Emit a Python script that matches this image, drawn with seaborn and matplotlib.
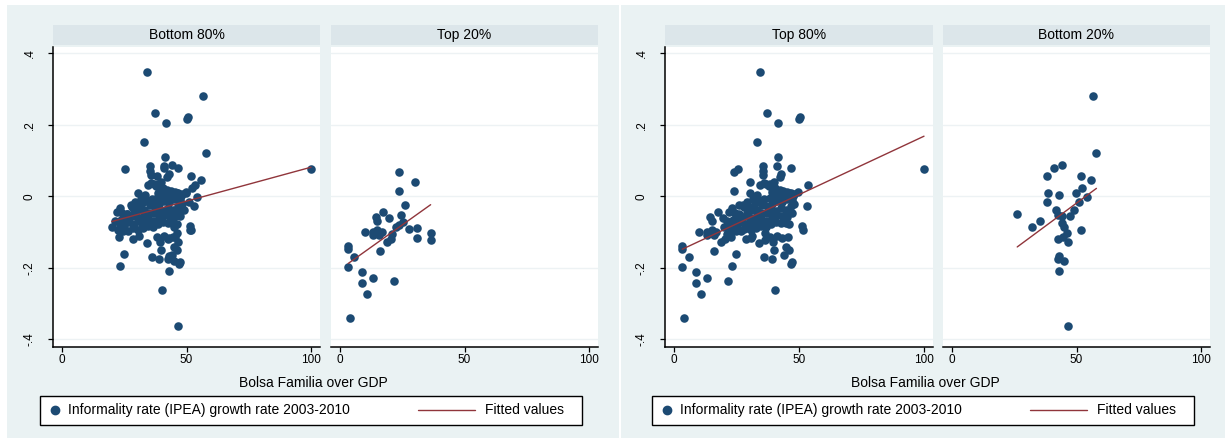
import matplotlib
matplotlib.use("Agg")
import matplotlib.pyplot as plt
import seaborn as sns
import pandas as pd
from matplotlib.patches import Rectangle
from matplotlib.lines import Line2D

# ---------------- data ----------------
# middle group (in "Bottom 80%" and in "Top 80%")
mid_x = [34.2, 37.3, 50.1, 50.5, 41.7, 33.0, 41.5, 25.5, 100.0,
         35.4, 35.5, 35.6, 41.0, 46.7, 42.2, 42.8,
         38.4, 39.8, 34.4, 35.8, 30.4, 53.5, 53.0,
         36.8, 37.8, 40.5, 42.3, 43.6, 45.2, 46.6, 47.7, 44.1, 41.2, 39.2, 33.2, 31.6, 29.2, 27.6,
         28.1, 30.1, 32.2, 34.1, 36.1, 38.2, 40.1, 42.0, 44.2, 46.1, 48.0, 49.6,
         24.2, 26.1, 29.0, 31.1, 33.1, 35.2, 37.1, 39.0, 41.1, 43.1, 45.1, 47.2,
         22.0, 23.6, 25.6, 27.5, 30.0, 32.6, 34.6, 36.6, 38.6, 40.6, 42.6, 44.6, 46.6, 48.1,
         21.1, 23.1, 25.1, 27.1, 29.1, 31.1, 33.1, 35.1, 37.1, 39.1, 41.1, 43.1, 45.1, 47.1, 51.3, 51.4,
         20.0, 22.6, 24.6, 26.6, 28.6, 30.6, 32.6, 34.6, 36.6, 38.6, 40.6, 42.6, 44.6, 46.1,
         22.8, 28.7, 31.0, 38.3, 41.0, 43.0, 45.5, 34.0, 39.5,
         44.8, 39.8, 44.1, 24.9, 36.1, 39.1, 46.8, 47.3, 23.1, 40.3,
         23.3, 46.0]
mid_y = [0.347, 0.234, 0.216, 0.223, 0.205, 0.153, 0.110, 0.076, 0.076,
         0.085, 0.070, 0.060, 0.085, 0.079, 0.054, 0.062,
         0.035, 0.040, 0.031, 0.036, 0.010, 0.033, -0.028,
         0.035, 0.030, 0.022, 0.019, 0.015, 0.012, 0.008, 0.002, 0.005, 0.008, 0.013, 0.003, -0.007, -0.015, -0.023,
         -0.031, -0.030, -0.019, -0.012, -0.007, -0.005, -0.002, 0.004, 0.002, 0.008, 0.006, 0.012,
         -0.047, -0.049, -0.047, -0.037, -0.038, -0.025, -0.026, -0.022, -0.012, -0.016, -0.008, -0.010,
         -0.043, -0.065, -0.067, -0.057, -0.057, -0.057, -0.047, -0.048, -0.040, -0.040, -0.032, -0.037, -0.028, -0.022,
         -0.070, -0.080, -0.083, -0.073, -0.077, -0.070, -0.075, -0.065, -0.070, -0.058, -0.052, -0.054, -0.057, -0.046, -0.084, -0.093,
         -0.085, -0.093, -0.097, -0.097, -0.089, -0.095, -0.089, -0.083, -0.087, -0.077, -0.072, -0.076, -0.074, -0.077,
         -0.114, -0.119, -0.112, -0.114, -0.110, -0.118, -0.115, -0.130, -0.128,
         -0.142, -0.151, -0.165, -0.161, -0.170, -0.175, -0.189, -0.184, -0.195, -0.263,
         -0.032, -0.150]

# lowest group ("Bottom 20%")
low_x = [56.6, 58.0, 44.3, 41.1, 38.0, 51.7, 56.0, 52.2, 38.7, 43.0, 49.7, 54.1,
         50.9, 38.0, 26.2, 41.6, 49.0, 42.4, 44.0, 47.4, 35.4, 32.3, 44.0, 45.1,
         51.7, 46.0, 44.7, 42.4, 46.6, 43.0, 42.4, 44.8, 43.0, 46.7]
low_y = [0.281, 0.122, 0.087, 0.079, 0.057, 0.057, 0.045, 0.023, 0.010, 0.005, 0.010, -0.003,
         -0.016, -0.016, -0.050, -0.039, -0.037, -0.051, -0.056, -0.056, -0.068, -0.085, -0.076, -0.087,
         -0.094, -0.104, -0.114, -0.120, -0.129, -0.167, -0.176, -0.180, -0.210, -0.364]

# highest group ("Top 20%")
high_x = [23.9, 30.3, 23.9, 26.1, 24.7, 17.4, 19.7, 14.5, 15.0, 25.3, 22.4, 23.9, 27.9,
          30.8, 30.8, 36.4, 36.4, 10.1, 13.2, 13.2, 15.0, 16.7, 15.8, 21.0, 20.3, 18.9,
          16.0, 3.3, 3.3, 5.8, 3.3, 8.8, 8.8, 13.2, 21.7, 10.8, 3.9, 14.1]
high_y = [0.067, 0.041, 0.016, -0.023, -0.053, -0.044, -0.062, -0.057, -0.070, -0.071, -0.086, -0.081, -0.092,
          -0.088, -0.118, -0.104, -0.122, -0.100, -0.099, -0.109, -0.095, -0.101, -0.109, -0.106, -0.120, -0.129,
          -0.152, -0.138, -0.148, -0.170, -0.199, -0.212, -0.242, -0.229, -0.238, -0.273, -0.341, -0.102]

panel_titles = ["Bottom 80%", "Top 20%", "Top 80%", "Bottom 20%"]
panel_groups = [["mid", "low"], ["high"], ["mid", "high"], ["low"]]
x_ticks = [0, 50, 100]
x_tick_labels = ["0", "50", "100"]
y_ticks = [-0.4, -0.2, 0, 0.2, 0.4]
y_tick_labels = ["-.4", "-.2", "0", ".2", ".4"]
x_title = "Bolsa Familia over GDP"
legend_labels = ["Informality rate (IPEA) growth rate 2003-2010", "Fitted values"]

df = pd.concat([
    pd.DataFrame({"x": mid_x, "y": mid_y, "group": "mid"}),
    pd.DataFrame({"x": low_x, "y": low_y, "group": "low"}),
    pd.DataFrame({"x": high_x, "y": high_y, "group": "high"}),
], ignore_index=True)

# ---------------- style ----------------
sns.set_theme(style="white")
plt.rcParams['font.family'] = ['Liberation Sans', 'DejaVu Sans']

NAVY = '#1c4a73'
RED = '#90353b'
BG = '#EAF2F3'
STRIP = '#DCE6EA'
GRID = '#EDF2F4'

W, H = 1229, 443
fig = plt.figure(figsize=(W / 100, H / 100), dpi=100, facecolor='white')


def fx(px):
    return px / W


def fy(py):
    return 1 - py / H


for x0, x1 in [(7, 619), (621, 1225)]:
    fig.patches.append(Rectangle((fx(x0), fy(438)), (x1 - x0) / W, (438 - 5) / H,
                                 transform=fig.transFigure, facecolor=BG,
                                 edgecolor='none', zorder=-5))

TOP, BOT = 47, 347
lefts = [(53, 320), (331, 598), (665, 933), (943, 1210)]
show_y = [True, False, True, False]

for (l, r), title, groups, yax in zip(lefts, panel_titles, panel_groups, show_y):
    ax = fig.add_axes([fx(l), fy(BOT), (r - l) / W, (BOT - TOP) / H])
    ax.set_facecolor('white')
    sub = df[df["group"].isin(groups)]
    sns.scatterplot(data=sub, x="x", y="y", ax=ax, color=NAVY, s=38,
                    linewidth=0, zorder=3)
    sns.regplot(data=sub, x="x", y="y", ax=ax, scatter=False, ci=None,
                line_kws=dict(color=RED, lw=1.0, zorder=4))
    ax.set_xlim(-3.6, 103.6)
    ax.set_ylim(-0.422, 0.418)
    ax.set_xlabel("")
    ax.set_ylabel("")
    ax.set_xticks(x_ticks)
    ax.set_xticklabels(x_tick_labels)
    ax.set_yticks(y_ticks)
    ax.grid(axis='y', color=GRID, lw=1.0)
    ax.grid(axis='x', visible=False)
    ax.set_axisbelow(True)
    for s in ['top', 'right']:
        ax.spines[s].set_visible(False)
    ax.spines['bottom'].set_color('black')
    ax.spines['bottom'].set_linewidth(1.1)
    ax.tick_params(axis='x', direction='out', length=3.5, width=0.9, color='black',
                   labelsize=8.5, pad=1.5, labelcolor='black', bottom=True)
    if yax:
        ax.set_yticklabels(y_tick_labels)
        ax.spines['left'].set_color('black')
        ax.spines['left'].set_linewidth(1.1)
        ax.tick_params(axis='y', direction='out', length=3.5, width=0.9, color='black',
                       labelsize=8.5, pad=9, labelcolor='black', left=True,
                       labelrotation=90)
        for lab in ax.get_yticklabels():
            lab.set_verticalalignment('center')
    else:
        ax.spines['left'].set_visible(False)
        ax.tick_params(axis='y', left=False, labelleft=False)

    sax = fig.add_axes([fx(l), fy(45), (r - l) / W, 20 / H])
    sax.set_facecolor(STRIP)
    sax.set_xticks([])
    sax.set_yticks([])
    for s in sax.spines.values():
        s.set_visible(False)
    sax.text(0.5, 0.5, title, ha='center', va='center', fontsize=10,
             color='black', transform=sax.transAxes)

for off in [0, 612]:
    fig.text(fx(313 + off), fy(383), x_title, ha='center', va='center',
             fontsize=10, color='black')
    fig.patches.append(Rectangle((fx(40 + off), fy(425)), 542 / W, 29 / H,
                                 transform=fig.transFigure, facecolor='white',
                                 edgecolor='black', lw=1.0, zorder=1))
    fig.add_artist(Line2D([fx(55 + off)], [fy(410)], marker='o', ms=6,
                          color=NAVY, linestyle='none',
                          transform=fig.transFigure, zorder=2))
    fig.text(fx(68 + off), fy(410), legend_labels[0], ha='left', va='center',
             fontsize=10, color='black')
    fig.add_artist(Line2D([fx(418 + off), fx(475 + off)], [fy(410), fy(410)],
                          color=RED, lw=1.0, transform=fig.transFigure, zorder=2))
    fig.text(fx(485 + off), fy(410), legend_labels[1], ha='left', va='center',
             fontsize=10, color='black')

fig.savefig("out.png", dpi=100, facecolor='white')
